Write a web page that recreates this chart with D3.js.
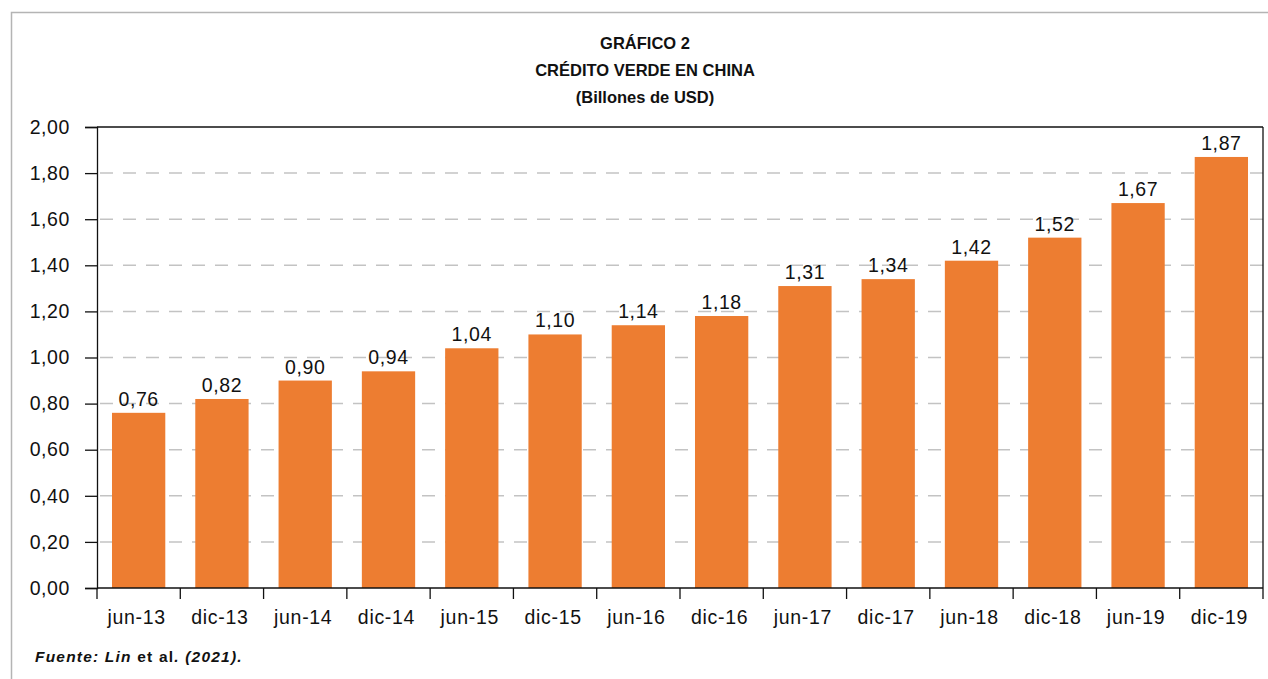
<!DOCTYPE html>
<html>
<head>
<meta charset="utf-8">
<script src="https://cdn.jsdelivr.net/npm/d3@7"></script>
<style>
	body { margin:0; background:#fff; }
	text { font-family: "Liberation Sans", Arial, Helvetica, sans-serif; }
</style>
</head>
<body>
<div id="chart"></div>
<script>
// DATA
var categories = ["jun-13","dic-13","jun-14","dic-14","jun-15","dic-15","jun-16","dic-16","jun-17","dic-17","jun-18","dic-18","jun-19","dic-19"];
var values = [0.76, 0.82, 0.90, 0.94, 1.04, 1.10, 1.14, 1.18, 1.31, 1.34, 1.42, 1.52, 1.67, 1.87];
var yTicks = [0, 0.2, 0.4, 0.6, 0.8, 1.0, 1.2, 1.4, 1.6, 1.8, 2.0];
var titleLines = ["GRÁFICO 2", "CRÉDITO VERDE EN CHINA", "(Billones de USD)"];

(function(){
	var w = 1268
	, h = 679
	, left = 97
	, right = 1263
	, top = 127
	, bottom = 588
	, barColor = "#ED7D31"
	, fontSz = "19.5px"
	, comma = function(v){ return d3.format(".2f")(v).replace(".", ","); }
	, svg, x, y, g;

	svg = d3.select("#chart").append("svg")
		.attr("width", w)
		.attr("height", h);

	// outer frame
	svg.append("rect")
		.attr("x", 11.5).attr("y", 12.5)
		.attr("width", w + 20).attr("height", h + 20)
		.attr("fill", "none")
		.attr("stroke", "#b4b4b4")
		.attr("stroke-width", 1.5);

	// titles
	svg.selectAll("text.title")
		.data(titleLines)
		.enter().append("text")
		.attr("class", "title")
		.attr("x", 645)
		.attr("y", function(d, i){ return 49 + i*27; })
		.attr("text-anchor", "middle")
		.attr("font-size", "16.5px")
		.attr("font-weight", "bold")
		.attr("fill", "#111")
		.text(function(d){ return d; });

	x = d3.scaleBand().domain(categories).range([left, right]).paddingInner(0.36).paddingOuter(0.18);
	y = d3.scaleLinear().domain([0, 2]).range([bottom, top]);

	// gridlines
	svg.append("g").selectAll("line")
		.data(yTicks.filter(function(d){ return d > 0 && d < 2; }))
		.enter().append("line")
		.attr("x1", left).attr("x2", right)
		.attr("y1", function(d){ return y(d); })
		.attr("y2", function(d){ return y(d); })
		.attr("stroke", "#c3c3c3")
		.attr("stroke-width", 1.5)
		.attr("stroke-dasharray", "13,10")
		.attr("stroke-dashoffset", -3);

	// bars
	svg.append("g").selectAll("rect")
		.data(values)
		.enter().append("rect")
		.attr("x", function(d, i){ return x(categories[i]); })
		.attr("y", function(d){ return y(d); })
		.attr("width", x.bandwidth())
		.attr("height", function(d){ return bottom - y(d); })
		.attr("fill", barColor);

	// value labels
	svg.append("g").selectAll("text")
		.data(values)
		.enter().append("text")
		.attr("x", function(d, i){ return x(categories[i]) + x.bandwidth()/2; })
		.attr("y", function(d){ return y(d) - 7; })
		.attr("text-anchor", "middle")
		.attr("font-size", fontSz)
		.attr("letter-spacing", "0.6px")
		.attr("fill", "#111")
		.text(function(d){ return comma(d); });

	// frame of plot
	svg.append("line").attr("x1", left).attr("x2", right).attr("y1", top).attr("y2", top)
		.attr("stroke", "#111").attr("stroke-width", 1.3);
	svg.append("line").attr("x1", right).attr("x2", right).attr("y1", top).attr("y2", bottom)
		.attr("stroke", "#111").attr("stroke-width", 1.3);

	// y axis
	g = svg.append("g")
		.attr("transform", "translate(" + left + ",0)")
		.call(d3.axisLeft(y).tickValues(yTicks).tickSize(12).tickPadding(15).tickFormat(comma));
	g.select(".domain").attr("stroke", "#111").attr("stroke-width", 1.3);
	g.selectAll(".tick line").attr("stroke", "#111").attr("stroke-width", 1.3);
	g.selectAll(".tick text")
		.attr("font-size", fontSz)
		.attr("letter-spacing", "0.6px")
		.attr("fill", "#111")
		.attr("font-family", "Liberation Sans, Arial, sans-serif");

	// x axis with ticks between categories
	g = svg.append("g")
		.attr("transform", "translate(0," + bottom + ")")
		.call(d3.axisBottom(x).tickSize(0).tickPadding(22));
	g.select(".domain").attr("stroke", "#111").attr("stroke-width", 1.3).attr("d", "M" + left + ",0H" + right);
	g.selectAll(".tick text")
		.attr("font-size", fontSz)
		.attr("letter-spacing", "0.7px")
		.attr("dx", "-2")
		.attr("fill", "#111")
		.attr("font-family", "Liberation Sans, Arial, sans-serif");

	svg.append("g").selectAll("line")
		.data(d3.range(categories.length + 1))
		.enter().append("line")
		.attr("x1", function(i){ return left + i*x.step(); })
		.attr("x2", function(i){ return left + i*x.step(); })
		.attr("y1", bottom)
		.attr("y2", bottom + 11)
		.attr("stroke", "#111")
		.attr("stroke-width", 1.3);

	// source
	var src = svg.append("text")
		.attr("x", 35)
		.attr("y", 662)
		.attr("font-size", "15.5px")
		.attr("font-weight", "bold")
		.attr("letter-spacing", "1.2px")
		.attr("fill", "#111");
	src.append("tspan").attr("font-style", "italic").text("Fuente: Lin");
	src.append("tspan").text(" et al");
	src.append("tspan").attr("font-style", "italic").text(". (2021).");
}());
</script>
</body>
</html>
